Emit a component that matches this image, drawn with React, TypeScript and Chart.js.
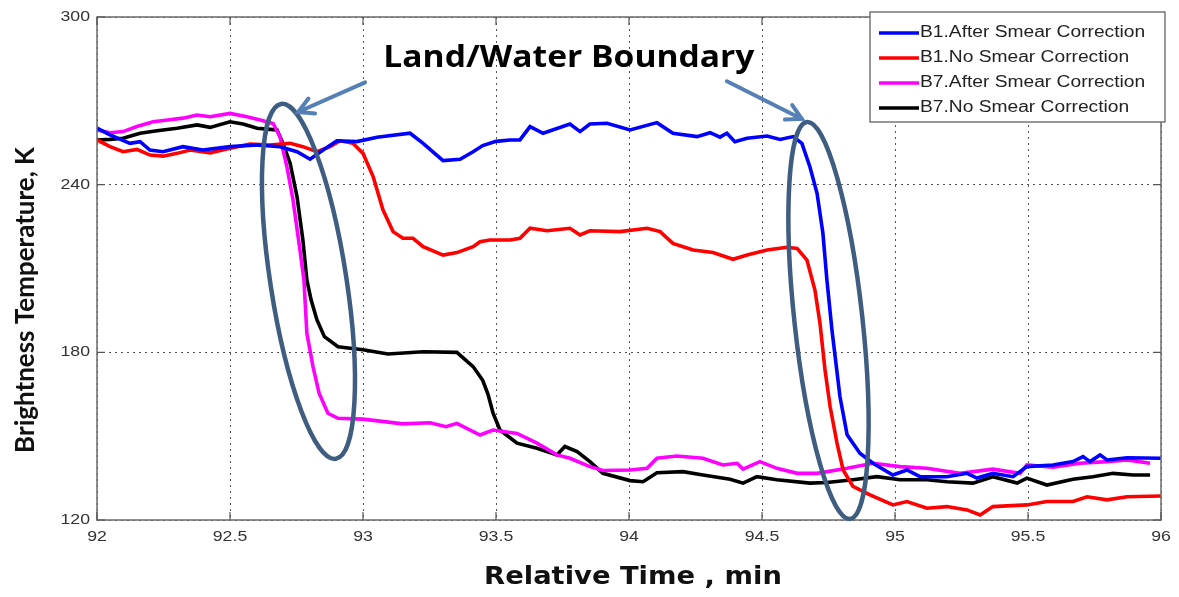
import React, { useEffect, useRef } from "react";
import { Chart, registerables } from "chart.js";

Chart.register(...registerables);

// ---------- data ----------
const b1AfterT = [92.000,92.049,92.124,92.162,92.199,92.248,92.323,92.398,92.500,92.602,92.688,92.752,92.801,92.850,92.902,92.977,93.053,93.177,93.226,93.301,93.365,93.414,93.450,93.500,93.553,93.590,93.628,93.677,93.778,93.816,93.853,93.917,94.004,94.105,94.165,94.256,94.305,94.342,94.368,94.398,94.444,94.519,94.568,94.617,94.650,94.680,94.707,94.729,94.744,94.763,94.793,94.820,94.868,94.917,94.992,95.045,95.094,95.195,95.271,95.308,95.368,95.444,95.496,95.594,95.669,95.707,95.733,95.771,95.797,95.872,96.000];
const b1AfterK = [260.2,257.8,254.8,255.4,252.4,251.8,253.6,252.4,253.6,254.2,253.6,251.8,249.1,252.4,255.7,255.4,257.0,258.4,254.8,248.6,249.1,251.8,254.0,255.5,256.0,256.0,260.8,258.4,261.7,259.0,261.7,262.0,259.6,262.2,258.4,257.2,258.6,257.0,258.4,255.4,256.6,257.4,256.2,257.2,254.8,246.4,236.9,222.6,205.9,188.0,164.2,150.5,143.9,140.3,136.1,137.9,135.5,135.5,136.7,135.0,136.7,135.5,139.1,139.7,140.9,142.7,140.9,143.3,141.5,142.3,142.1];

const b1NoT = [92.000,92.049,92.098,92.150,92.199,92.248,92.301,92.350,92.425,92.500,92.575,92.650,92.726,92.774,92.827,92.876,92.914,92.962,93.000,93.038,93.075,93.113,93.150,93.188,93.226,93.301,93.353,93.414,93.440,93.477,93.553,93.590,93.628,93.692,93.778,93.816,93.853,93.966,94.068,94.117,94.165,94.241,94.316,94.391,94.444,94.519,94.594,94.632,94.669,94.699,94.718,94.737,94.756,94.782,94.805,94.842,94.906,94.992,95.045,95.120,95.195,95.271,95.320,95.368,95.496,95.571,95.669,95.722,95.797,95.872,96.000];
const b1NoK = [256.0,253.6,251.8,252.6,250.6,250.2,251.2,252.4,251.4,253.0,254.5,254.2,254.8,253.6,251.8,253.6,255.7,254.8,251.2,242.9,231.0,223.2,220.8,220.8,217.8,214.8,215.7,217.8,219.6,220.2,220.2,220.8,224.4,223.5,224.4,222.0,223.5,223.2,224.4,223.2,219.0,216.6,215.7,213.3,214.8,216.6,217.6,217.2,213.0,202.3,190.4,173.7,160.6,147.5,137.9,132.0,129.0,125.4,126.6,124.2,124.8,123.6,121.8,124.8,125.4,126.6,126.6,128.3,127.2,128.3,128.6];

const b7AfterT = [92.000,92.049,92.098,92.150,92.211,92.274,92.323,92.376,92.425,92.500,92.564,92.624,92.662,92.688,92.714,92.737,92.763,92.778,92.789,92.812,92.835,92.868,92.906,93.000,93.079,93.150,93.252,93.312,93.353,93.440,93.489,93.579,93.654,93.729,93.778,93.853,93.902,94.004,94.068,94.105,94.180,94.278,94.353,94.406,94.429,94.492,94.556,94.632,94.707,94.820,94.917,95.019,95.120,95.244,95.368,95.470,95.496,95.594,95.695,95.797,95.872,95.959];
const b7AfterK = [259.6,258.6,259.0,260.8,262.5,263.2,263.8,264.9,264.3,265.5,264.3,262.9,261.9,257.2,246.4,234.5,216.6,205.9,186.8,174.9,165.4,158.2,156.4,156.1,155.2,154.4,154.8,153.4,154.6,150.4,152.2,151.0,147.5,143.3,142.1,139.1,137.7,137.9,138.5,142.1,142.9,142.1,139.7,140.3,138.2,140.9,138.5,136.7,136.7,138.5,140.3,139.1,138.5,136.7,138.2,136.7,139.7,138.9,140.3,140.9,141.5,140.3];

const b7NoT = [92.000,92.049,92.098,92.162,92.226,92.301,92.376,92.425,92.500,92.549,92.602,92.650,92.677,92.699,92.726,92.752,92.774,92.789,92.805,92.827,92.855,92.906,93.000,93.094,93.226,93.353,93.414,93.450,93.470,93.489,93.515,93.579,93.654,93.729,93.759,93.805,93.853,93.902,94.004,94.053,94.105,94.203,94.278,94.380,94.429,94.481,94.556,94.680,94.744,94.842,94.932,95.019,95.120,95.195,95.293,95.368,95.459,95.496,95.571,95.669,95.744,95.820,95.895,95.959];
const b7NoK = [256.0,256.2,256.6,258.4,259.3,260.2,261.4,260.5,262.5,261.7,260.2,259.8,259.6,254.8,247.7,235.7,220.2,205.9,198.7,191.6,185.6,182.0,180.9,179.4,180.2,180.0,174.9,170.0,165.0,158.2,152.2,147.5,145.7,143.3,146.3,144.5,140.9,136.7,134.1,133.7,136.9,137.3,136.1,134.6,133.2,135.5,134.4,133.2,133.4,134.4,135.5,134.4,134.4,133.7,133.2,135.5,133.2,135.0,132.5,134.6,135.5,136.7,136.1,136.1];

const seriesLabels = [
  "B1.After Smear Correction",
  "B1.No Smear Correction",
  "B7.After Smear Correction",
  "B7.No Smear Correction",
];
const seriesColors = ["#0000ff", "#ff0000", "#ff00ff", "#000000"];

const xTickValues = [92, 92.5, 93, 93.5, 94, 94.5, 95, 95.5, 96];
const yTickValues = [120, 180, 240, 300];

const xTitle = "Relative Time , min";
const yTitle = "Brightness Temperature, K";

// annotation (data coordinates)
const annotationText = "Land/Water Boundary";
const annotationTextAt = [93.774, 285.0];
// arrows: [tailT, tailK, tipT, tipK]
const annotationArrows = [
  [93.008, 276.6, 92.756, 266.0],
  [94.368, 277.0, 94.650, 263.5],
];
// ellipses: [endT1, endK1, endT2, endK2, semiMinorPx]
const annotationEllipses = [
  [92.692, 268.9, 92.898, 141.9, 38],
  [94.669, 262.4, 94.831, 120.4, 34],
];

function pts(t: number[], k: number[]) {
  return t.map((x, i) => ({ x, y: k[i] }));
}

function stretchedText(ctx: any, text: string, x: number, y: number, sx: number) {
  ctx.save();
  ctx.translate(x, y);
  ctx.scale(sx, 1);
  ctx.fillText(text, 0, 0);
  ctx.restore();
}

const decorPlugin = {
  id: "decor",
  afterDatasetsDraw(chart: any) {
    const { ctx, chartArea, scales } = chart;
    const xs = scales.x;
    const ys = scales.y;
    const { left, right, top, bottom } = chartArea;
    ctx.save();

    // frame
    ctx.strokeStyle = "#6b6b6b";
    ctx.lineWidth = 1.5;
    ctx.setLineDash([]);
    ctx.strokeRect(left, top, right - left, bottom - top);

    // inward ticks
    ctx.strokeStyle = "#555";
    ctx.lineWidth = 1.2;
    const tl = 8;
    ctx.beginPath();
    xTickValues.forEach((v) => {
      const px = xs.getPixelForValue(v);
      ctx.moveTo(px, bottom);
      ctx.lineTo(px, bottom - tl);
      ctx.moveTo(px, top);
      ctx.lineTo(px, top + tl);
    });
    yTickValues.forEach((v) => {
      const py = ys.getPixelForValue(v);
      ctx.moveTo(left, py);
      ctx.lineTo(left + tl, py);
      ctx.moveTo(right, py);
      ctx.lineTo(right - tl, py);
    });
    ctx.stroke();

    // tick labels (slightly wide, like the source)
    ctx.fillStyle = "#333";
    ctx.font = '15px "Liberation Sans"';
    ctx.textBaseline = "middle";
    ctx.textAlign = "center";
    xTickValues.forEach((v) => {
      stretchedText(ctx, String(v), xs.getPixelForValue(v), bottom + 17, 1.18);
    });
    ctx.textAlign = "right";
    yTickValues.forEach((v) => {
      stretchedText(ctx, String(v), left - 7, ys.getPixelForValue(v), 1.18);
    });

    // x title
    ctx.fillStyle = "#111";
    ctx.font = 'bold 24px "DejaVu Sans"';
    ctx.textAlign = "center";
    ctx.textBaseline = "middle";
    stretchedText(ctx, xTitle, (left + right) / 2 + 4, 578, 1.14);

    // y title
    ctx.save();
    ctx.translate(26, 300);
    ctx.rotate(-Math.PI / 2);
    ctx.fillStyle = "#111";
    ctx.font = "bold 26px Lato";
    ctx.textAlign = "center";
    ctx.textBaseline = "middle";
    ctx.fillText(yTitle, 0, 0);
    ctx.restore();

    // ellipses
    ctx.strokeStyle = "#3f5d80";
    ctx.lineWidth = 4.5;
    annotationEllipses.forEach(([t1, k1, t2, k2, b]) => {
      const x1 = xs.getPixelForValue(t1), y1 = ys.getPixelForValue(k1);
      const x2 = xs.getPixelForValue(t2), y2 = ys.getPixelForValue(k2);
      const cx = (x1 + x2) / 2, cy = (y1 + y2) / 2;
      const a = Math.hypot(x2 - x1, y2 - y1) / 2;
      const ang = Math.atan2(y2 - y1, x2 - x1);
      ctx.beginPath();
      ctx.ellipse(cx, cy, a, b, ang, 0, Math.PI * 2);
      ctx.stroke();
    });

    // arrows
    ctx.strokeStyle = "#5580b5";
    ctx.lineWidth = 4;
    ctx.lineCap = "round";
    annotationArrows.forEach(([t1, k1, t2, k2]) => {
      const x1 = xs.getPixelForValue(t1), y1 = ys.getPixelForValue(k1);
      const x2 = xs.getPixelForValue(t2), y2 = ys.getPixelForValue(k2);
      const ang = Math.atan2(y2 - y1, x2 - x1);
      const hl = 17, ha = 0.5;
      ctx.beginPath();
      ctx.moveTo(x1, y1);
      ctx.lineTo(x2, y2);
      ctx.moveTo(x2 - hl * Math.cos(ang - ha), y2 - hl * Math.sin(ang - ha));
      ctx.lineTo(x2, y2);
      ctx.lineTo(x2 - hl * Math.cos(ang + ha), y2 - hl * Math.sin(ang + ha));
      ctx.stroke();
    });

    // annotation text
    ctx.fillStyle = "#000";
    ctx.font = 'bold 30px "Open Sans"';
    ctx.textAlign = "center";
    ctx.textBaseline = "middle";
    stretchedText(
      ctx,
      annotationText,
      xs.getPixelForValue(annotationTextAt[0]),
      ys.getPixelForValue(annotationTextAt[1]),
      1.12
    );

    // legend
    const lx = 870, ly = 12, lw = 295, lh = 110;
    ctx.fillStyle = "#fff";
    ctx.fillRect(lx, ly, lw, lh);
    ctx.strokeStyle = "#555";
    ctx.lineWidth = 1.2;
    ctx.lineCap = "butt";
    ctx.strokeRect(lx, ly, lw, lh);
    ctx.font = '16px "Liberation Sans"';
    ctx.textAlign = "left";
    ctx.textBaseline = "middle";
    seriesLabels.forEach((lab, i) => {
      const yy = ly + 21 + i * 25;
      ctx.strokeStyle = seriesColors[i];
      ctx.lineWidth = 3.5;
      ctx.beginPath();
      ctx.moveTo(lx + 9, yy);
      ctx.lineTo(lx + 49, yy);
      ctx.stroke();
      ctx.fillStyle = "#222";
      stretchedText(ctx, lab, lx + 50, yy, 1.2);
    });

    ctx.restore();
  },
};

export default function App() {
  const ref = useRef<HTMLCanvasElement | null>(null);
  useEffect(() => {
    document.body.style.margin = "0";
    const canvas = ref.current;
    if (!canvas) return;
    const tArrs = [b1AfterT, b1NoT, b7AfterT, b7NoT];
    const kArrs = [b1AfterK, b1NoK, b7AfterK, b7NoK];
    const chart = new Chart(canvas, {
      type: "line",
      data: {
        datasets: seriesLabels.map((label, i) => ({
          label,
          data: pts(tArrs[i], kArrs[i]),
          borderColor: seriesColors[i],
          backgroundColor: seriesColors[i],
          borderWidth: 3.6,
          pointRadius: 0,
          tension: 0,
          fill: false,
        })),
      },
      options: {
        animation: false,
        responsive: false,
        maintainAspectRatio: false,
        layout: { padding: { top: 17, right: 18, left: 0, bottom: 0 } },
        plugins: {
          legend: { display: false },
          tooltip: { enabled: false },
        },
        scales: {
          x: {
            type: "linear",
            min: 92,
            max: 96,
            afterBuildTicks: (s: any) => {
              s.ticks = xTickValues.map((v) => ({ value: v }));
            },
            afterFit: (s: any) => {
              s.height = 77;
            },
            ticks: { display: false },
            grid: {
              color: "#555",
              lineWidth: 1,
              drawTicks: false,
            },
            border: { display: false, dash: [2, 4] },
          },
          y: {
            type: "linear",
            min: 120,
            max: 300,
            afterBuildTicks: (s: any) => {
              s.ticks = yTickValues.map((v) => ({ value: v }));
            },
            afterFit: (s: any) => {
              s.width = 97;
            },
            ticks: { display: false },
            grid: {
              color: "#555",
              lineWidth: 1,
              drawTicks: false,
            },
            border: { display: false, dash: [2, 4] },
          },
        },
      },
      plugins: [decorPlugin],
    });
    return () => chart.destroy();
  }, []);
  return (
    <div style={{ width: 1179, height: 597, background: "#fff" }}>
      <canvas ref={ref} width={1179} height={597} style={{ display: "block" }} />
    </div>
  );
}
